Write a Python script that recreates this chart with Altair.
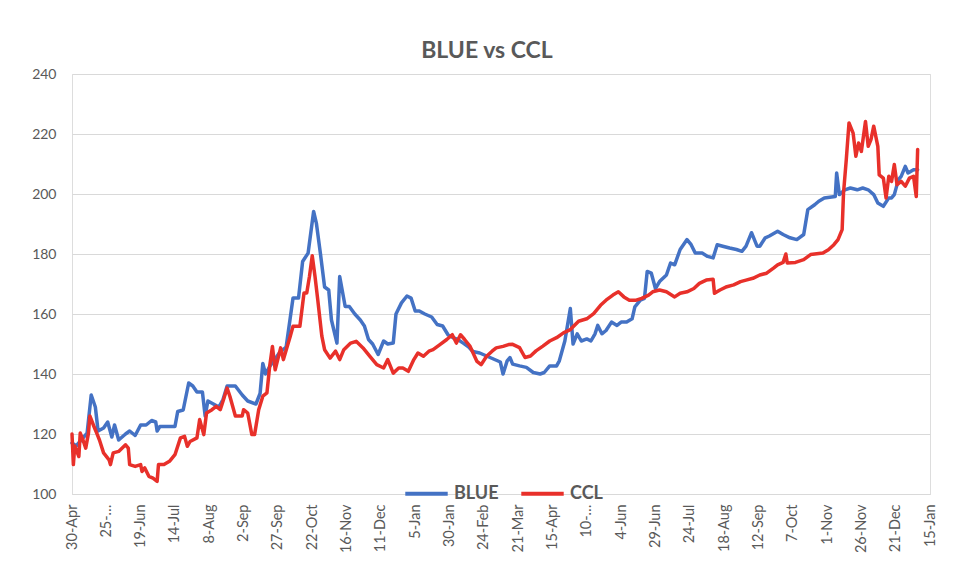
import altair as alt
import pandas as pd

start_date = "2020-04-30"
end_date = "2022-01-15"
tick_step_days = 25
n_ticks = 26

# days since 30-Apr-2020 and values
blue_day = [0, 3, 11, 14, 17, 19, 23, 26, 29, 31, 34, 39, 42, 46, 50, 54, 58, 61, 62, 64,
            75, 77, 81, 85, 88, 91, 95, 97, 99, 103, 107, 110, 113, 119, 124, 128, 134, 137, 139, 141,
            144, 151, 156, 161, 165, 168, 172, 176, 178, 181, 184, 187, 189, 193, 195, 199, 202, 206, 210, 213,
            216, 219, 223, 227, 230, 234, 236, 240, 244, 247, 250, 253, 257, 262, 266, 270, 274, 278, 281, 285,
            289, 292, 297, 302, 307, 312, 314, 317, 319, 321, 326, 331, 336, 341, 344, 348, 353, 355, 359, 363,
            365, 368, 371, 375, 378, 381, 383, 386, 389, 393, 397, 400, 404, 408, 410, 414, 417, 419, 422, 425,
            428, 433, 436, 439, 443, 448, 451, 454, 459, 463, 467, 470, 474, 479, 484, 488, 491, 495, 499, 501,
            505, 508, 514, 518, 523, 528, 533, 536, 541, 544, 548, 556, 557, 559, 563, 567, 572, 576, 580, 584,
            587, 591, 595, 597, 599, 602, 604, 607, 609, 613, 616]
blue_val = [117, 116, 120.3, 133, 129, 121, 122, 124, 119, 123, 118, 120, 121, 119.5, 123, 123, 124.5, 124, 121, 122.5,
            122.5, 127.5, 128, 137, 136, 134, 134, 126, 131, 130, 129, 131.5, 136, 136, 133, 131, 130, 133.5, 143.5, 140,
            142.5, 147, 149, 165.3, 165.3, 177.5, 180.3, 194.2, 190.3, 180, 169, 168, 158, 150.3, 172.5, 162.5, 162.5, 160, 158, 156,
            151.5, 150, 146.5, 151, 150, 150.3, 160, 163.7, 166, 165.3, 161, 161, 160, 159, 156.5, 156, 153, 152, 151.5, 150.3,
            149, 147.5, 147, 146, 145, 144, 140, 144.4, 145.5, 143.3, 142.7, 142.2, 140.5, 140, 140.5, 142.7, 142.7, 144.4, 151, 161.8,
            150, 153.4, 151, 151.7, 151, 153.4, 156.2, 153.4, 154.5, 157.3, 156.2, 157.3, 157.3, 158.4, 162.4, 164.6, 165.2, 174.2, 173.6, 168.5,
            170.8, 173, 177, 176.4, 181.5, 184.8, 183.1, 180.3, 180.3, 179.2, 178.7, 183.1, 182.6, 182, 181.5, 180.9, 182.6, 187.1, 182.6, 182.6,
            185.4, 186, 187.6, 186.5, 185.4, 184.8, 186.5, 194.8, 196.4, 197.6, 198.7, 199.2, 207, 199.8, 201.4, 202, 201.4, 202, 201.4, 199.8,
            197, 195.9, 198.7, 198.7, 199.8, 204.8, 205.9, 209.2, 207, 208.1, 208.1]

ccl_day = [0, 1, 2, 5, 6, 8, 10, 12, 13, 16, 18, 20, 23, 27, 28, 30, 34, 39, 41, 42,
           46, 50, 51, 53, 56, 59, 62, 63, 67, 71, 75, 79, 82, 84, 86, 91, 93, 96, 98, 102,
           105, 108, 110, 113, 115, 119, 124, 125, 128, 131, 133, 136, 139, 142, 144, 146, 148, 152, 154, 159,
           161, 166, 169, 171, 173, 175, 177, 179, 182, 184, 188, 192, 195, 198, 203, 207, 212, 217, 222, 227,
           230, 234, 238, 241, 245, 249, 252, 256, 260, 263, 268, 273, 277, 280, 283, 286, 290, 295, 298, 302,
           306, 309, 314, 318, 321, 326, 330, 334, 338, 343, 348, 353, 358, 363, 369, 375, 380, 385, 389, 394,
           398, 402, 406, 411, 415, 420, 423, 428, 433, 439, 443, 448, 453, 457, 462, 467, 468, 472, 477, 482,
           487, 491, 496, 501, 506, 511, 514, 518, 520, 521, 527, 533, 538, 547, 551, 555, 558, 561, 562, 564,
           566, 569, 571, 573, 575, 578, 580, 582, 584, 587, 588, 591, 593, 595, 597, 599, 601, 604, 607, 610,
           613, 615, 616]
ccl_val = [120, 109.8, 116, 112.5, 120.3, 118, 115.3, 120.3, 126, 122.5, 120.3, 118, 113.7, 111.4, 109.8, 113.7, 114.2, 116.4, 115.3, 109.8,
           109.2, 109.8, 107.5, 108.7, 105.9, 105.3, 104.2, 109.8, 109.8, 110.9, 113.1, 118.7, 119.2, 115.9, 117.5, 118.7, 124.8, 119.8, 127, 128.1,
           129.2, 128.1, 130.9, 135.3, 132.6, 126, 126, 128.1, 127, 119.8, 119.8, 128.1, 132.6, 133.7, 142.6, 149.2, 141.4, 148.7, 144.8, 152.6,
           155.9, 155.9, 167, 167, 172.6, 179.4, 172.6, 164.8, 152.6, 148.1, 145.3, 147.6, 144.8, 148.1, 150.3, 150.9, 148.7, 145.9, 143.1, 142,
           144.8, 140.3, 142, 142, 140.9, 144.8, 147, 145.9, 147.6, 148.1, 149.8, 151.5, 153.1, 150.3, 153.1, 151.5, 149.2, 144.2, 143.1, 145.9,
           147.6, 148.7, 149.2, 149.8, 149.9, 148.8, 145.5, 146, 147.7, 149.3, 151, 152.1, 153.7, 154.8, 157.6, 158.4, 160.1, 162.9, 164.6, 166.3,
           167.4, 165.7, 164.6, 164.6, 165.2, 166.3, 167.4, 168, 167.4, 165.7, 166.9, 167.4, 168.5, 170.2, 171.3, 171.6, 166.9, 168, 169.1, 169.7,
           170.8, 171.3, 171.9, 173, 173.6, 175.3, 176.4, 177.2, 180, 177, 177.2, 178.1, 179.8, 180.3, 181.4, 183.1, 184.8, 188.1, 200.3, 211.4,
           223.7, 220.3, 212.6, 217, 214.2, 224.2, 215.9, 218.1, 222.6, 215.9, 206.4, 205.3, 198.7, 205.9, 204.2, 209.8, 203.1, 204.2, 202.6, 205.3,
           205.9, 199.2, 214.8]

series_names = ["BLUE", "CCL"]
series_colors = ["#4472C4", "#E8302A"]
y_ticks = [100, 120, 140, 160, 180, 200, 220, 240]

base = pd.Timestamp(start_date)
frames = []
for name, days, vals in [("BLUE", blue_day, blue_val), ("CCL", ccl_day, ccl_val)]:
    d = pd.DataFrame({
        "date": (base + pd.to_timedelta(days, unit="D")).strftime("%Y-%m-%d"),
        "value": vals,
        "series": name,
    })
    frames.append(d)
df = pd.concat(frames, ignore_index=True)


def ms(ts):
    return int(pd.Timestamp(ts, tz="UTC").timestamp() * 1000)


tick_vals = [ms(base + pd.Timedelta(days=tick_step_days * i)) for i in range(n_ticks)]
x_domain = [ms(start_date), ms(end_date)]

FONT = "Lato"
GREY = "#595959"

chart = alt.Chart(df).mark_line(strokeWidth=3.5, strokeJoin="round", strokeCap="round").encode(
    x=alt.X("date:T",
            scale=alt.Scale(type="utc", domain=x_domain, nice=False),
            axis=alt.Axis(values=tick_vals, format="%-d-%b", labelAngle=-90,
                          labelExpr="datum.label == '25-May' ? '25-\u2026' : (datum.label == '10-May' ? '10-\u2026' : datum.label)",
                          title=None, grid=False, ticks=False, labelPadding=10,
                          domainColor="#D9D9D9", labelFont=FONT, labelFontSize=14.5,
                          labelColor=GREY, labelOverlap=False)),
    y=alt.Y("value:Q",
            scale=alt.Scale(domain=[100, 240], nice=False, zero=False),
            axis=alt.Axis(values=y_ticks, title=None, domain=False, ticks=False,
                          labelPadding=16, gridColor="#D9D9D9", labelFont=FONT,
                          labelFontSize=14, labelColor=GREY)),
    color=alt.Color("series:N",
                    scale=alt.Scale(domain=series_names, range=series_colors),
                    legend=alt.Legend(orient="none", legendX=331, legendY=396,
                                      direction="horizontal", title=None,
                                      symbolType="stroke", symbolStrokeWidth=4,
                                      symbolSize=1800, labelFontSize=18,
                                      labelFontWeight="bold", labelColor=GREY,
                                      labelFont=FONT, columnPadding=14,
                                      labelOffset=4, padding=0)),
    order=alt.Order("series:N"),
).properties(
    width=858,
    height=420,
    padding={"left": 72, "top": 74, "right": 50, "bottom": 73},
    autosize="none",
    title=alt.TitleParams("BLUE vs CCL", anchor="middle", fontSize=23,
                          fontWeight="bold", font=FONT, color=GREY,
                          baseline="alphabetic", offset=16, dx=-14, dy=30),
).configure_view(stroke=None).configure(background="white")

chart.save("out.html", embed_options={"renderer": "svg", "actions": False})
